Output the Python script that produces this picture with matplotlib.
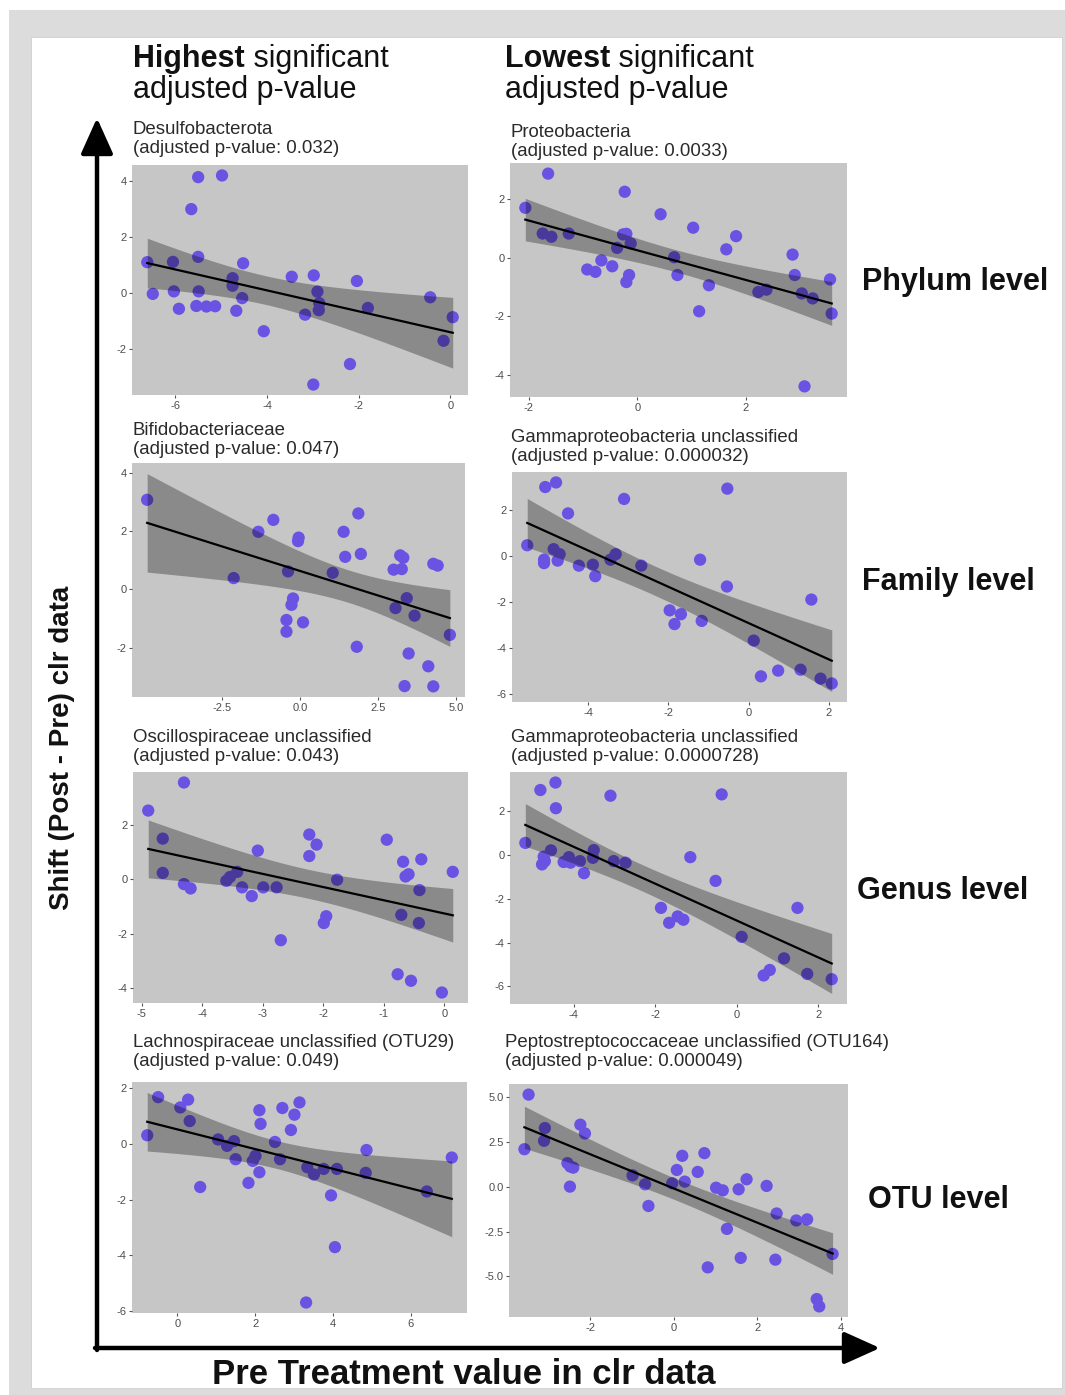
import numpy as np
import matplotlib
matplotlib.use("Agg")
import matplotlib.pyplot as plt
from matplotlib.patches import Rectangle

W, H, DPI = 1065, 1395, 100
plt.rcParams['font.family'] = ['Liberation Sans', 'DejaVu Sans']
plt.rcParams['axes.unicode_minus'] = False

# ---------------- data ----------------
phylum_hi_x = [-6.61, -6.49, -6.05, -6.03, -5.92, -5.65, -5.50, -5.50, -5.49, -5.54, -5.32,
               -5.13, -4.98, -4.75, -4.75, -4.67, -4.54, -4.52, -4.07, -3.46, -3.17, -2.98,
               -2.90, -2.86, -2.87, -2.99, -2.19, -2.04, -1.80, -0.44, -0.15, 0.05]
phylum_hi_y = [1.09, -0.04, 1.10, 0.05, -0.57, 2.98, 4.12, 1.28, 0.05, -0.47, -0.49,
               -0.48, 4.18, 0.52, 0.25, -0.64, -0.19, 1.05, -1.37, 0.57, -0.78, 0.62,
               0.04, -0.37, -0.62, -3.27, -2.54, 0.42, -0.54, -0.16, -1.71, -0.87]

phylum_lo_x = [-2.06, -1.64, -1.74, -1.58, -1.26, -0.92, -0.77, -0.66, -0.46, -0.37, -0.26,
               -0.23, -0.20, -0.12, -0.15, -0.20, 0.43, 0.68, 0.74, 1.03, 1.14, 1.32,
               1.64, 1.82, 2.23, 2.38, 2.86, 2.90, 3.03, 3.23, 3.08, 3.55, 3.58]
phylum_lo_y = [1.71, 2.88, 0.83, 0.72, 0.83, -0.40, -0.48, -0.09, -0.29, 0.34, 0.80,
               2.26, 0.82, 0.49, -0.59, -0.83, 1.49, 0.02, -0.59, 1.03, -1.83, -0.94,
               0.29, 0.74, -1.17, -1.09, 0.11, -0.59, -1.22, -1.39, -4.40, -0.74, -1.91]

family_hi_x = [-4.90, -2.13, -1.34, -0.86, -0.39, -0.44, -0.44, -0.23, -0.28, -0.05, -0.07,
               0.09, 1.04, 1.39, 1.44, 1.86, 1.94, 1.81, 2.99, 3.05, 3.20, 3.30, 3.25,
               3.41, 3.47, 3.34, 3.66, 4.10, 4.26, 4.26, 4.40, 4.79]
family_hi_y = [3.08, 0.39, 1.98, 2.39, 0.62, -1.05, -1.45, -0.31, -0.53, 1.78, 1.66,
               -1.13, 0.57, 1.98, 1.12, 2.61, 1.22, -1.97, 0.68, -0.64, 1.17, 1.09, 0.70,
               -0.30, -2.20, -3.32, -0.90, -2.64, -3.33, 0.88, 0.82, -1.56]

family_lo_x = [-5.53, -5.11, -5.11, -5.08, -4.81, -4.87, -4.72, -4.77, -4.51, -4.24, -3.89,
               -3.83, -3.45, -3.32, -3.11, -2.68, -1.97, -1.85, -1.69, -1.21, -1.17, -0.53,
               -0.54, 0.13, 0.31, 0.74, 1.30, 1.57, 1.80, 2.08]
family_lo_y = [0.47, -0.16, -0.31, 3.01, 3.21, 0.30, 0.08, -0.20, 1.86, -0.42, -0.38,
               -0.88, -0.16, 0.08, 2.49, -0.42, -2.37, -2.97, -2.54, -0.16, -2.83, 2.94,
               -1.33, -3.69, -5.25, -5.00, -4.96, -1.90, -5.35, -5.56]

genus_hi_x = [-4.89, -4.65, -4.65, -4.30, -4.30, -4.19, -3.60, -3.54, -3.42, -3.34, -3.18,
              -3.08, -2.99, -2.77, -2.70, -2.23, -2.23, -2.11, -1.99, -1.95, -1.77, -0.95,
              -0.71, -0.77, -0.68, -0.64, -0.59, -0.55, -0.38, -0.41, -0.42, -0.04, 0.14]
genus_hi_y = [2.52, 1.49, 0.23, 3.55, -0.18, -0.34, -0.06, 0.08, 0.27, -0.30, -0.62,
              1.05, -0.30, -0.30, -2.24, 1.64, 0.85, 1.27, -1.61, -1.36, -0.02, 1.45,
              -1.31, -3.49, 0.64, 0.10, 0.18, -3.73, 0.73, -0.40, -1.61, -4.16, 0.27]

genus_lo_x = [-5.19, -4.82, -4.74, -4.78, -4.71, -4.56, -4.45, -4.44, -4.25, -4.12, -4.08,
              -3.85, -3.75, -3.53, -3.51, -3.10, -3.02, -2.73, -1.86, -1.66, -1.45, -1.31,
              -1.14, -0.52, -0.37, 0.12, 0.66, 0.81, 1.16, 1.49, 1.73, 2.33]
genus_lo_y = [0.54, 2.95, -0.09, -0.44, -0.29, 0.20, 3.29, 2.12, -0.33, -0.11, -0.36,
              -0.29, -0.84, -0.14, 0.21, 2.69, -0.29, -0.36, -2.42, -3.10, -2.81, -2.96,
              -0.11, -1.19, 2.75, -3.74, -5.50, -5.25, -4.72, -2.42, -5.43, -5.67]

otu_hi_x = [-0.77, -0.49, 0.08, 0.28, 0.32, 0.59, 1.05, 1.28, 1.46, 1.50, 1.83,
            1.94, 2.01, 2.11, 2.14, 2.11, 2.51, 2.64, 2.70, 2.92, 3.01, 3.14,
            3.34, 3.31, 3.51, 3.76, 3.95, 4.05, 4.10, 4.86, 4.84, 6.41, 7.05]
otu_hi_y = [0.31, 1.68, 1.31, 1.59, 0.82, -1.55, 0.16, -0.07, 0.10, -0.55, -1.40,
            -0.61, -0.43, 1.21, 0.72, -1.02, 0.07, -0.55, 1.29, 0.50, 1.05, 1.49,
            -0.84, -5.70, -1.10, -0.90, -1.85, -3.71, -0.90, -0.22, -1.04, -1.71, -0.49]

otu_lo_x = [-3.58, -3.48, -3.09, -3.11, -2.55, -2.48, -2.41, -2.49, -2.24, -2.13, -0.99,
            -0.69, -0.61, -0.04, 0.07, 0.20, 0.26, 0.57, 0.73, 0.81, 1.01, 1.17,
            1.27, 1.55, 1.60, 1.74, 2.22, 2.46, 2.43, 2.93, 3.19, 3.42, 3.48, 3.80]
otu_lo_y = [2.10, 5.15, 3.28, 2.57, 1.32, 1.13, 1.07, 0.01, 3.47, 2.98, 0.64,
            0.14, -1.07, 0.20, 0.94, 1.73, 0.29, 0.83, 1.88, -4.50, -0.05, -0.20,
            -2.35, -0.14, -3.97, 0.42, 0.05, -1.49, -4.07, -1.88, -1.82, -6.27, -6.68, -3.75]

taxa = ["Desulfobacterota", "Proteobacteria",
        "Bifidobacteriaceae", "Gammaproteobacteria unclassified",
        "Oscillospiraceae unclassified", "Gammaproteobacteria unclassified",
        "Lachnospiraceae unclassified (OTU29)", "Peptostreptococcaceae unclassified (OTU164)"]
pvalues = ["0.032", "0.0033", "0.047", "0.000032", "0.043", "0.0000728", "0.049", "0.000049"]
levels = ["Phylum level", "Family level", "Genus level", "OTU level"]

xticks_list = [[-6, -4, -2, 0], [-2, 0, 2],
               [-2.5, 0.0, 2.5, 5.0], [-4, -2, 0, 2],
               [-5, -4, -3, -2, -1, 0], [-4, -2, 0, 2],
               [0, 2, 4, 6], [-2, 0, 2, 4]]
yticks_list = [[-2, 0, 2, 4], [-4, -2, 0, 2],
               [-2, 0, 2, 4], [-6, -4, -2, 0, 2],
               [-4, -2, 0, 2], [-6, -4, -2, 0, 2],
               [-6, -4, -2, 0, 2], [-5.0, -2.5, 0.0, 2.5, 5.0]]

xs_all = [phylum_hi_x, phylum_lo_x, family_hi_x, family_lo_x,
          genus_hi_x, genus_lo_x, otu_hi_x, otu_lo_x]
ys_all = [phylum_hi_y, phylum_lo_y, family_hi_y, family_lo_y,
          genus_hi_y, genus_lo_y, otu_hi_y, otu_lo_y]

# ---------------- layout (pixels) ----------------
boxes = [(132, 165, 468, 395), (510, 163, 847, 397),
         (132, 463, 465, 697), (512, 472, 847, 702),
         (133, 772, 468, 1003), (510, 772, 847, 1004),
         (132, 1082, 467, 1313), (509, 1084, 848, 1317)]
title_pos = [(133, 157), (511, 160), (133, 458), (511, 465),
             (133, 765), (511, 765), (133, 1070), (505, 1070)]
level_pos = [(862, 282), (862, 582), (857, 891), (868, 1200)]

fig = plt.figure(figsize=(W / DPI, H / DPI), dpi=DPI)
fig.patch.set_facecolor('white')


def fx(x):
    return x / W


def fy(y):
    return 1 - y / H


# outer frame
fig.patches.append(Rectangle((fx(9), fy(1395)), fx(1065 - 9), (1395 - 10) / H,
                             transform=fig.transFigure, facecolor='#dcdcdc',
                             edgecolor='none', zorder=-10))
fig.patches.append(Rectangle((fx(31), fy(1388)), fx(1062 - 31), (1388 - 37) / H,
                             transform=fig.transFigure, facecolor='white',
                             edgecolor='#d0d0d0', lw=0.6, zorder=-9))

# overlay for arrows
ov = fig.add_axes([0, 0, 1, 1], zorder=1)
ov.set_xlim(0, W)
ov.set_ylim(H, 0)
ov.axis('off')
ov.patch.set_alpha(0)
ov.annotate('', xy=(97, 118), xytext=(97, 1350),
            arrowprops=dict(arrowstyle='-|>,head_length=1.0,head_width=0.45', lw=3.2,
                            color='black', mutation_scale=22, shrinkA=0, shrinkB=0))
ov.annotate('', xy=(880, 1348), xytext=(95, 1348),
            arrowprops=dict(arrowstyle='-|>,head_length=1.0,head_width=0.45', lw=3.2,
                            color='black', mutation_scale=22, shrinkA=0, shrinkB=0))

T_CRIT = 2.04
point_color = '#6a52e2'

for i in range(8):
    x0, y0, x1, y1 = boxes[i]
    ax = fig.add_axes([fx(x0), fy(y1), (x1 - x0) / W, (y1 - y0) / H], zorder=2)
    ax.set_facecolor('#c6c6c6')
    x = np.asarray(xs_all[i], float)
    y = np.asarray(ys_all[i], float)
    ax.scatter(x, y, s=78, color=point_color, edgecolors='none', zorder=2)
    # linear fit with 95% confidence band (as geom_smooth(method = "lm"))
    n = len(x)
    b1, b0 = np.polyfit(x, y, 1)
    xg = np.linspace(x.min(), x.max(), 100)
    yg = b0 + b1 * xg
    resid = y - (b0 + b1 * x)
    s = np.sqrt(np.sum(resid ** 2) / (n - 2))
    sxx = np.sum((x - x.mean()) ** 2)
    se = s * np.sqrt(1.0 / n + (xg - x.mean()) ** 2 / sxx)
    ax.fill_between(xg, yg - T_CRIT * se, yg + T_CRIT * se, color='black', alpha=0.3,
                    lw=0, zorder=3)
    ax.plot(xg, yg, color='black', lw=1.6, zorder=4)
    ax.set_xticks(xticks_list[i])
    ax.set_yticks(yticks_list[i])
    if i == 2:
        ax.set_xticklabels([f"{v:.1f}" for v in xticks_list[i]])
    if i == 7:
        ax.set_yticklabels([f"{v:.1f}" for v in yticks_list[i]])
    for sp in ax.spines.values():
        sp.set_visible(False)
    ax.tick_params(labelsize=8, labelcolor='#4d4d4d', color='#555555', length=2.5,
                   width=0.8, pad=1.5)
    tx, ty = title_pos[i]
    fig.text(fx(tx), fy(ty), f"{taxa[i]}\n(adjusted p-value: {pvalues[i]})",
             ha='left', va='bottom', fontsize=13.4, color='#2a2a2a', linespacing=1.12)

# column headers
renderer = fig.canvas.get_renderer()
for hx, bold_word in [(133, "Highest"), (505, "Lowest")]:
    t1 = fig.text(fx(hx), fy(67), bold_word, fontsize=22, fontweight='bold',
                  ha='left', va='baseline', color='#111111')
    bb = t1.get_window_extent(renderer)
    fig.text(bb.x1 / W, fy(67), " significant", fontsize=22, ha='left', va='baseline',
             color='#111111')
    fig.text(fx(hx), fy(98), "adjusted p-value", fontsize=22, ha='left', va='baseline',
             color='#111111')

for (lx, ly), lab in zip(level_pos, levels):
    fig.text(fx(lx), fy(ly), lab, fontsize=22, fontweight='bold', ha='left', va='center',
             color='#111111')

fig.text(fx(62), fy(748), "Shift (Post - Pre) clr data", rotation=90, fontsize=20,
         fontweight='bold', ha='center', va='center', color='#111111')
fig.text(fx(464), fy(1374), "Pre Treatment value in clr data", fontsize=25,
         fontweight='bold', ha='center', va='center', color='#111111')

fig.savefig('out.png', dpi=DPI)
